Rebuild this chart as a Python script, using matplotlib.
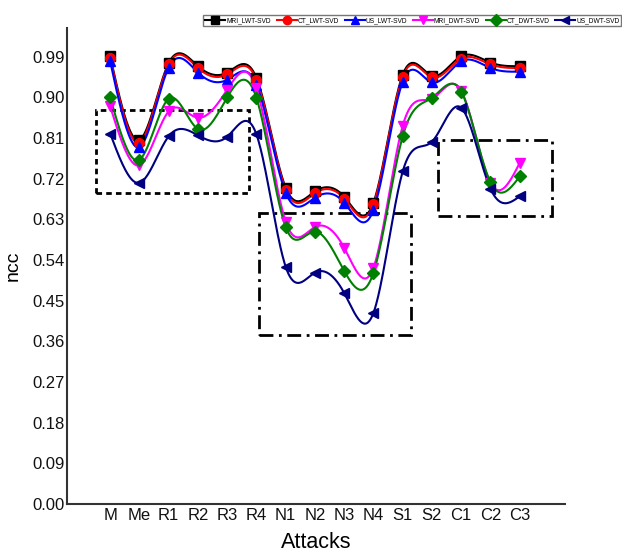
import numpy as np
import matplotlib
matplotlib.use("Agg")
import matplotlib.pyplot as plt
from matplotlib.patches import Rectangle

plt.rcParams['font.family'] = ['Liberation Sans', 'DejaVu Sans']

attacks = ["M", "Me", "R1", "R2", "R3", "R4", "N1", "N2", "N3", "N4", "S1", "S2", "C1", "C2", "C3"]
yticks = [0.00, 0.09, 0.18, 0.27, 0.36, 0.45, 0.54, 0.63, 0.72, 0.81, 0.90, 0.99]

mri_lwt = [0.991, 0.806, 0.976, 0.969, 0.955, 0.943, 0.700, 0.692, 0.680, 0.667, 0.950, 0.948, 0.991, 0.977, 0.969]
ct_lwt  = [0.988, 0.800, 0.973, 0.965, 0.951, 0.939, 0.696, 0.688, 0.676, 0.663, 0.946, 0.944, 0.986, 0.973, 0.965]
us_lwt  = [0.980, 0.790, 0.966, 0.955, 0.939, 0.928, 0.689, 0.678, 0.667, 0.651, 0.935, 0.933, 0.980, 0.965, 0.957]
mri_dwt = [0.880, 0.750, 0.869, 0.855, 0.917, 0.920, 0.625, 0.613, 0.567, 0.523, 0.837, 0.897, 0.915, 0.711, 0.755]
ct_dwt  = [0.900, 0.762, 0.897, 0.830, 0.900, 0.899, 0.613, 0.603, 0.516, 0.512, 0.814, 0.899, 0.913, 0.712, 0.725]
us_dwt  = [0.820, 0.711, 0.814, 0.816, 0.813, 0.818, 0.525, 0.512, 0.467, 0.423, 0.736, 0.802, 0.877, 0.698, 0.681]

labels = ["MRI_LWT-SVD", "CT_LWT-SVD", "US_LWT-SVD", "MRI_DWT-SVD", "CT_DWT-SVD", "US_DWT-SVD"]
series = [mri_lwt, ct_lwt, us_lwt, mri_dwt, ct_dwt, us_dwt]
colors = ["black", "red", "blue", "magenta", "green", "#000080"]
markers = ["s", "o", "^", "v", "D", "<"]
msizes = [6.5, 7, 7.5, 7.5, 6, 7.5]


def natural_spline(x, y, xs):
    x = np.asarray(x, float); y = np.asarray(y, float)
    n = len(x)
    h = np.diff(x)
    A = np.zeros((n, n)); b = np.zeros(n)
    A[0, 0] = 1; A[-1, -1] = 1
    for i in range(1, n - 1):
        A[i, i - 1] = h[i - 1]
        A[i, i] = 2 * (h[i - 1] + h[i])
        A[i, i + 1] = h[i]
        b[i] = 6 * ((y[i + 1] - y[i]) / h[i] - (y[i] - y[i - 1]) / h[i - 1])
    M = np.linalg.solve(A, b)
    idx = np.clip(np.searchsorted(x, xs) - 1, 0, n - 2)
    x0 = x[idx]; x1 = x[idx + 1]; hh = x1 - x0
    a = (x1 - xs) / hh; c = (xs - x0) / hh
    return (a * y[idx] + c * y[idx + 1]
            + ((a ** 3 - a) * M[idx] + (c ** 3 - c) * M[idx + 1]) * hh ** 2 / 6)


fig = plt.figure(figsize=(6.22, 5.56), dpi=100)
ax = fig.add_axes([0.108, 0.0935, 0.800, 0.8565])

xpos = np.arange(1, len(attacks) + 1)
xs = np.linspace(1, len(attacks), 600)
handles = []
for vals, lab, col, mk, ms in zip(series, labels, colors, markers, msizes):
    ys = natural_spline(xpos, vals, xs)
    ax.plot(xs, ys, color=col, lw=1.5, zorder=2)
    ax.plot(xpos, vals, linestyle='none', marker=mk, color=col, markersize=ms, zorder=3)
    h, = ax.plot([], [], color=col, lw=1.5, marker=mk, markersize=6)
    handles.append(h)

# annotation boxes
ax.add_patch(Rectangle((0.52, 0.688), 5.21, 0.183, fill=False, lw=2, ls=(0, (2, 1.5)), ec='black', zorder=1))
ax.add_patch(Rectangle((6.10, 0.373), 5.20, 0.272, fill=False, lw=2, ls=(0, (5, 2, 1, 2)), ec='black', zorder=1))
ax.add_patch(Rectangle((12.21, 0.638), 3.88, 0.168, fill=False, lw=2, ls=(0, (5, 2, 1, 2)), ec='black', zorder=1))

ax.set_xlim(-0.47, 16.54)
ax.set_ylim(0, 1.054)
ax.set_xticks(xpos)
ax.set_xticklabels(attacks)
ax.set_yticks(yticks)
ax.set_yticklabels([f"{v:.2f}" for v in yticks])
ax.tick_params(axis='both', length=0, labelsize=12, colors='#111111')
ax.tick_params(axis='y', pad=2)
ax.tick_params(axis='x', pad=3)
for s in ['top', 'right']:
    ax.spines[s].set_visible(False)
for s in ['left', 'bottom']:
    ax.spines[s].set_linewidth(1.5)
    ax.spines[s].set_color('#333333')

ax.set_xlabel("Attacks", fontsize=15.5, labelpad=6)
ax.set_ylabel("ncc", fontsize=14, labelpad=7)

fig.legend(handles, labels, loc='center', ncol=6, mode='expand',
           bbox_to_anchor=(0.327, 0.944, 0.672, 0.038), fontsize=4.8,
           handlelength=3.0, handletextpad=0.1, columnspacing=0.2,
           borderpad=0.3, borderaxespad=0, frameon=True, fancybox=False,
           edgecolor='#555555')

fig.savefig("out.png", dpi=100)
